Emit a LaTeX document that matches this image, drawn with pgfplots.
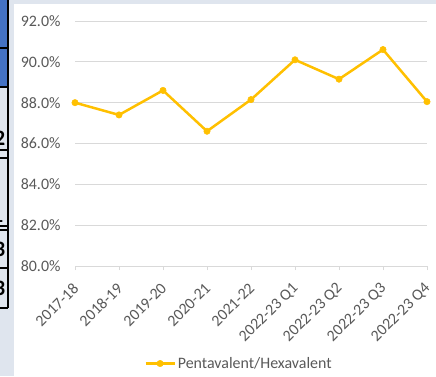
\documentclass[border=0pt]{standalone}
\usepackage{pgfplots}
\pgfplotsset{compat=1.18}
\usepackage{fontspec}
\setmainfont{Carlito}
\definecolor{bgc}{HTML}{DFE5EE}
\definecolor{tblue}{HTML}{4472C4}
\definecolor{gold}{HTML}{FFC000}
\definecolor{gridc}{HTML}{D9D9D9}
\definecolor{txt}{HTML}{595959}
\begin{document}
\begin{tikzpicture}[x=1bp,y=1bp]
\fill[bgc] (0,0) rectangle (436,376);
\fill[white] (14,0) rectangle (436,372);
% cropped table fragment at left edge
\fill[tblue] (0,376) rectangle (8,376-87);
\begin{scope}
\clip (0,0) rectangle (8,376);
\node[anchor=west,inner sep=0pt,font=\bfseries\fontsize{22}{22}\selectfont] at (-6,376-138) {2};
\node[anchor=west,inner sep=0pt,font=\bfseries\fontsize{22}{22}\selectfont] at (-8,376-215) {1};
\node[anchor=west,inner sep=0pt,font=\bfseries\fontsize{22}{22}\selectfont] at (-6,376-249) {3};
\node[anchor=west,inner sep=0pt,font=\bfseries\fontsize{22}{22}\selectfont] at (-6,376-288) {3};
\draw[line width=1.2bp] (0,376-150) -- (8,376-150);
\draw[line width=1.2bp] (0,376-226) -- (8,376-226);
\end{scope}
\foreach \yy in {48,87,158,230,268,308} {
  \draw[black,line width=1.5bp] (0,376-\yy) -- (8,376-\yy);
}
\draw[black,line width=1.5bp] (8,376) -- (8,376-308);
\begin{axis}[
  at={(75bp,110bp)}, anchor=south west,
  scale only axis, width=352bp, height=245bp,
  xmin=0, xmax=8, ymin=80, ymax=92,
  axis x line*=bottom,
  axis y line*=left,
  x axis line style={draw=gridc, line width=0.8bp, -},
  y axis line style={draw=none},
  ytick={80,82,...,92},
  ymajorgrids, grid style={gridc, line width=0.8bp},
  xtick={0,...,8},
  xticklabels={2017-18,2018-19,2019-20,2020-21,2021-22,2022-23 Q1,2022-23 Q2,2022-23 Q3,2022-23 Q4},
  tick align=outside, major tick length=4bp,
  xtick style={draw=gridc, line width=0.8bp},
  ytick style={draw=none},
  tick label style={font=\fontsize{16}{18}\selectfont, text=txt},
  xticklabel style={xshift=1.5bp, yshift=-15bp, rotate=45, anchor=east, inner sep=1pt},
  yticklabel style={xshift=-7bp},
  yticklabel={\pgfmathprintnumber[fixed,fixed zerofill,precision=1]{\tick}\%},
  /pgf/number format/assume math mode=true,
  legend style={draw=none, fill=none, at={(0.466,-0.398)}, anchor=center,
    font=\fontsize{16}{18}\selectfont, text=txt, inner sep=0pt},
  legend image code/.code={\draw[mark repeat=2,mark phase=2] plot coordinates {(0bp,0bp)(14.5bp,0bp)(29bp,0bp)};},
  legend cell align=left,
  clip=false,
]
\addplot[gold, line width=2.5bp, mark=*, mark size=3.2bp, mark options={solid, fill=gold, draw=gold, line width=0.5bp}]
  coordinates {(0,88.0) (1,87.4) (2,88.6) (3,86.6) (4,88.15) (5,90.1) (6,89.15) (7,90.6) (8,88.05)};
\addlegendentry{Pentavalent/Hexavalent}
\end{axis}
\pgfresetboundingbox
\path[use as bounding box] (0,0) rectangle (436,376);
\end{tikzpicture}
\end{document}
